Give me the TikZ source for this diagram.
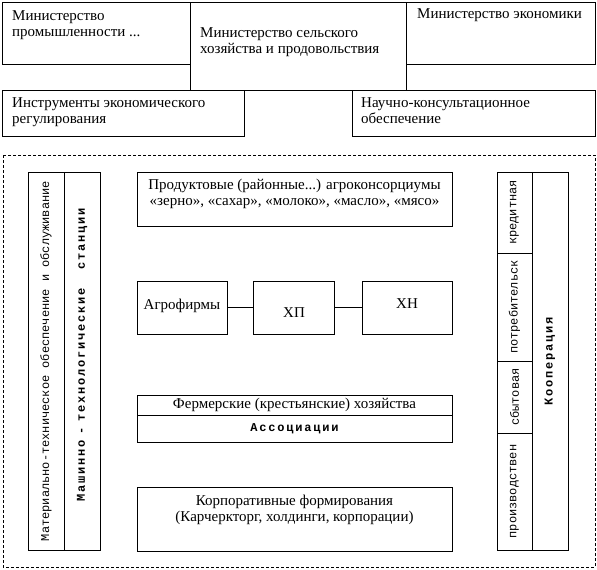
\documentclass[tikz,border=0pt]{standalone}
\usepackage{fontspec}
\setmainfont{Liberation Serif}
\newfontfamily\courfont{Liberation Mono}
\newfontfamily\courwide[LetterSpace=15]{Liberation Mono}

\begin{document}
\begin{tikzpicture}[x=1pt,y=-1pt,
		box/.style={draw,line width=0.8pt,anchor=north west,inner sep=0pt,outer sep=0pt},
		txt/.style={inner sep=0pt,font=\fontsize{15}{16.5}\selectfont},
		ltxt/.style={txt,align=left,anchor=north west},
		ctxt/.style={txt,align=center},
		vtxt/.style={inner sep=0pt,rotate=90,font=\fontsize{12}{14}\courfont},
		vbold/.style={inner sep=0pt,rotate=90,font=\fontsize{12}{14}\courwide\bfseries}]
		\useasboundingbox (0,0) rectangle (597,570);

		% ministries
		\node[box,minimum width=188,minimum height=62] (minprom) at (2,2) {};
		\node[box,minimum width=216,minimum height=88] (minselhoz) at (190,2) {};
		\node[box,minimum width=189,minimum height=62] (minecon) at (406,2) {};
		\node[box,minimum width=242,minimum height=46] (instr) at (2,90) {};
		\node[box,minimum width=243,minimum height=46] (nauch) at (352,90) {};

		\node[ltxt] (minprom-t) at (12,10) {Министерство\\промышленности ...};
		\node[ltxt] (minselhoz-t) at (200,27) {Министерство сельского\\хозяйства и продовольствия};
		\node[ltxt] (minecon-t) at (417,8) {Министерство экономики};
		\node[ltxt] (instr-t) at (12,97) {Инструменты экономического\\регулирования};
		\node[ltxt] (nauch-t) at (361,97) {Научно-консультационное\\обеспечение};

		% dashed frame
		\draw[line width=0.8pt,dash pattern=on 3pt off 2pt] (3,155) rectangle (595,567);

		% left column
		\node[box,minimum width=36,minimum height=378] (matob) at (28,172) {};
		\node[box,minimum width=36,minimum height=378] (mts) at (64,172) {};
		\node[vtxt] (matob-t) at (matob.center) {Материально-техническое обеспечение и обслуживание};
		\node[vbold] (mts-t) at ([yshift=6pt]mts.center) {Машинно\hspace{6pt}-\hspace{6pt}технологические~~станции};

		% right column
		\node[box,minimum width=35,minimum height=81] (kred) at (497,172) {};
		\node[box,minimum width=35,minimum height=108] (potr) at (497,253) {};
		\node[box,minimum width=35,minimum height=72] (sbyt) at (497,361) {};
		\node[box,minimum width=35,minimum height=117] (proizv) at (497,433) {};
		\node[box,minimum width=36,minimum height=378] (koop) at (532,172) {};
		\node[vtxt] at (kred.center) {кредитная};
		\node[vtxt] at (potr.center) {потребительск};
		\node[vtxt] at (sbyt.center) {сбытовая};
		\node[vtxt] at (proizv.center) {производствен};
		\node[vbold] at (koop.center) {Кооперация};

		% middle
		\node[box,minimum width=315,minimum height=54] (prod) at (137,172) {};
		\node[ctxt] at (294.5,194) {Продуктовые (районные...) агроконсорциумы\\«зерно», «сахар», «молоко», «масло», «мясо»};

		\node[box,minimum width=90,minimum height=53] (agro) at (137,281) {};
		\node[box,minimum width=81,minimum height=53] (xp) at (253,281) {};
		\node[box,minimum width=90,minimum height=53] (xn) at (362,281) {};
		\node[ctxt] at (182,306) {Агрофирмы};
		\node[ctxt] at (294,313) {ХП};
		\node[ctxt] at (407,304) {ХН};
		\draw[line width=0.8pt] (agro.east) -- (xp.west);
		\draw[line width=0.8pt] (xp.east) -- (xn.west);

		\node[box,minimum width=315,minimum height=20] (ferm) at (137,395) {};
		\node[box,minimum width=315,minimum height=27] (assoc) at (137,415) {};
		\node[ctxt] at (ferm.center) {Фермерские (крестьянские) хозяйства};
		\node[inner sep=0pt,font=\fontsize{12}{14}\courwide\bfseries] at (assoc.center) {Ассоциации};

		\node[box,minimum width=315,minimum height=64] (korp) at (137,487) {};
		\node[ctxt] at (294.5,510) {Корпоративные формирования\\(Карчеркторг, холдинги, корпорации)};
	\end{tikzpicture}
\end{document}
